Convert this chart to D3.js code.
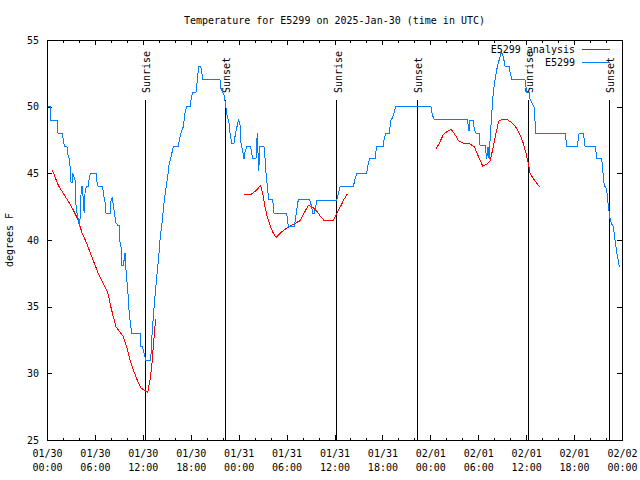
<!DOCTYPE html>
<html>
<head>
<meta charset="utf-8">
<script src="https://cdn.jsdelivr.net/npm/d3@7"></script>
<style>
html,body{margin:0;padding:0;background:#fff;}
svg text{font-family:"DejaVu Sans Mono","Liberation Mono",monospace;font-size:10px;fill:#000;}
</style>
</head>
<body>
<svg id="chart" width="640" height="480"></svg>
<script>
// ---- data (hours since 2025-01-30 00:00 UTC, degrees F) ----
const titleText = "Temperature for E5299 on 2025-Jan-30 (time in UTC)";
const yLabel = "degrees F";
const seriesNames = ["E5299 analysis", "E5299"];
const yTicks = [25, 30, 35, 40, 45, 50, 55];
const sunHours = [12.31, 22.33, 36.31, 46.37, 60.27, 70.41];
const sunLabels = ["Sunrise", "Sunset", "Sunrise", "Sunset", "Sunrise", "Sunset"];

const observed = [
[0.00,50],[0.44,50],[0.50,49],[1.25,49],[1.38,48],[1.94,48],[2.07,47.3],[2.25,47],[2.50,47],[2.63,46.4],
[2.82,46],[2.92,45.3],[3.01,44.3],[3.13,44.3],[3.23,45],[3.38,44.75],[3.51,44.5],[3.63,42.6],[3.76,42],[3.92,41.5],
[4.07,41],[4.13,41.5],[4.30,44],[4.45,44],[4.57,42.6],[4.67,42],[4.76,43.5],[4.92,44],[5.20,44],[5.26,44.5],
[5.42,45],[6.14,45],[6.20,44.5],[6.42,44],[6.97,44],[7.05,43.5],[7.26,42.9],[7.39,42],[7.98,42],[8.01,42.9],
[8.18,43.2],[8.30,42.6],[8.51,41.75],[8.64,41.3],[8.85,41.1],[9.02,41.1],[9.08,40],[9.27,39.5],[9.35,38.1],[9.60,38.1],
[9.68,38.75],[9.77,39],[9.93,37.4],[10.11,36.25],[10.27,34.75],[10.43,33.8],[10.61,33],[11.65,33],[11.71,32],[11.90,32],
[12.06,31.75],[12.36,31],[12.99,31],[13.11,32.5],[13.31,34.25],[13.52,35.75],[13.74,37.25],[13.99,38.75],[14.15,40],[14.44,41.5],
[14.65,42.75],[14.86,43.75],[15.11,44.75],[15.31,45.75],[15.49,46.1],[15.81,47],[16.44,47],[16.57,47.5],[16.78,48],[17.07,48.5],
[17.28,49.5],[17.49,50],[17.91,50],[18.03,50.5],[18.25,51.1],[18.66,51.1],[18.82,52],[19.00,53],[19.25,53],[19.37,52.6],
[19.50,52.05],[21.66,52.05],[21.75,51.4],[22.00,51.1],[22.16,50.9],[22.33,50.25],[22.58,49.25],[22.79,48.75],[22.92,48],[23.13,47.25],
[23.42,47.25],[23.54,47.75],[23.75,48.4],[24.00,49.05],[24.17,48.6],[24.26,47.4],[24.46,46.75],[24.67,46.1],[24.79,46.6],[25.01,47],
[25.51,47],[25.63,46.5],[25.76,46.1],[26.17,46.1],[26.33,48],[26.51,45.2],[26.67,47],[27.17,47],[27.26,46.5],[27.39,45.25],
[27.51,44.5],[27.64,43.75],[27.76,43.05],[28.26,43.05],[28.43,42],[30.02,42],[30.22,41],[30.97,41],[31.09,41.5],[31.34,42.5],
[31.47,43.05],[32.84,43.05],[32.93,42.9],[33.15,42.5],[33.27,42],[33.47,42],[33.65,42.5],[33.77,43],[36.28,43],[36.69,44],
[38.35,44],[38.57,44.55],[38.78,45],[40.03,45],[40.23,45.75],[40.44,46.1],[41.07,46.1],[41.28,47],[42.11,47],[42.24,47.7],
[42.45,48],[42.86,48],[42.95,48.5],[43.08,49],[43.29,49.2],[43.49,49.6],[43.67,50],[48.08,50],[48.25,49.4],[48.46,49.05],
[52.68,49.05],[52.76,48.25],[52.88,48.25],[52.97,49],[53.38,49],[53.51,48.25],[53.72,48],[54.13,48],[54.22,47.1],[54.85,47.1],
[55.06,46.1],[55.22,47],[55.35,46.1],[55.47,47.4],[55.69,49.5],[55.89,51.1],[56.10,52],[56.39,53],[56.73,53.75],[56.89,54.1],
[57.14,53.75],[57.35,53.05],[57.89,53.05],[57.98,52.6],[58.19,52.05],[59.85,52.05],[59.98,51.5],[60.07,51.1],[60.36,51.1],[60.48,50.6],
[60.69,50.3],[60.98,50],[61.11,48.9],[61.20,48],[64.90,48],[65.08,47.05],[66.40,47.05],[66.62,48],[67.16,48],[67.37,47.05],
[68.66,47.05],[68.83,46.1],[69.46,46.1],[69.58,45.25],[69.78,44.1],[70.08,43.8],[70.29,42.5],[70.50,41.6],[70.71,41.2],[70.91,41],
[71.13,40],[71.34,39.1],[71.66,38]
];

// analysis series: null marks a gap
const analysis = [
[0.66,45.25],[1.42,44.1],[2.04,43.5],[2.67,42.9],[3.29,42.25],[3.92,41.5],[4.35,40.6],[4.97,39.75],[5.60,38.75],[6.42,37.5],
[7.05,36.75],[7.60,36.1],[7.89,35.25],[8.30,34.25],[8.64,33.5],[9.14,33.1],[9.55,32.75],[9.98,32],[10.39,31],[10.81,30.25],
[11.36,29.4],[11.77,28.9],[12.27,28.7],[12.61,28.55],[12.90,29.5],[13.11,30.5],[13.31,32],[13.52,33.5],[13.65,34.1],
null,
[24.71,43.4],[25.63,43.45],[26.26,43.75],[26.76,44.1],[27.09,43.25],[27.30,42.5],[27.51,41.9],[27.84,41.25],[28.26,40.6],[28.68,40.2],
[29.18,40.5],[29.80,40.8],[30.64,41.1],[31.68,41.45],[32.18,42],[32.72,42.6],[33.27,42.45],[33.85,42.1],[34.27,41.75],[34.72,41.45],
[35.85,41.45],[36.28,42],[36.78,42.55],[37.19,43.05],[37.60,43.45],
null,
[48.67,46.8],[49.12,47.25],[49.62,47.9],[50.13,48.15],[50.59,48.3],[51.09,47.9],[51.59,47.4],[52.22,47.25],[52.97,47.2],[53.51,47],
[53.93,46.4],[54.22,46],[54.56,45.55],[55.06,45.7],[55.47,45.9],[55.89,47],[56.22,48],[56.56,48.9],[57.06,49.05],[57.56,49.05],
[58.19,48.8],[58.73,48.45],[59.23,47.9],[59.64,47.25],[59.98,46.5],[60.27,45.75],[60.48,45],[60.98,44.55],[61.65,44]
];

// ---- layout ----
const colors = {analysis: "#ff0000", observed: "#0080ff"};
const L = 47, R = 622, T = 40, B = 440;
const t0 = Date.UTC(2025, 0, 30);
const toDate = h => new Date(t0 + h * 3600e3);

const svg = d3.select("#chart");
const x = d3.scaleUtc().domain([toDate(0), toDate(72)]).range([L, R]);
const y = d3.scaleLinear().domain([25, 55]).range([B, T]);

const majorX = d3.range(0, 73, 6).map(toDate);
const minorX = d3.range(0, 73, 2).filter(h => h % 6 !== 0).map(toDate);

// title
svg.append("text").attr("x", (L + R) / 2).attr("y", 23.5)
  .attr("text-anchor", "middle").text(titleText);

// y label
svg.append("text").attr("transform", "translate(13,240) rotate(-90)")
  .attr("text-anchor", "middle").text(yLabel);

function cleanAxis(g) { g.select(".domain").remove(); g.selectAll("line").attr("shape-rendering", "crispEdges").attr("stroke", "#000"); }

// bottom axis (major)
const gxb = svg.append("g").attr("transform", `translate(0,${B})`)
  .call(d3.axisBottom(x).tickValues(majorX).tickSize(-5).tickSizeOuter(0).tickFormat(d3.utcFormat("%m/%d")))
  .call(cleanAxis);
gxb.selectAll(".tick text").each(function(d) {
  const t = d3.select(this);
  t.attr("y", 16.5).attr("dy", null).attr("font-size", null).attr("font-family", null).text(null);
  t.append("tspan").attr("x", 0).text(d3.utcFormat("%m/%d")(d));
  t.append("tspan").attr("x", 0).attr("dy", 14).text(d3.utcFormat("%H:%M")(d));
});
gxb.attr("font-size", null).attr("font-family", null);
// bottom minor
svg.append("g").attr("transform", `translate(0,${B})`)
  .call(d3.axisBottom(x).tickValues(minorX).tickSize(-2.5).tickSizeOuter(0).tickFormat(""))
  .call(cleanAxis);
// top
svg.append("g").attr("transform", `translate(0,${T})`)
  .call(d3.axisTop(x).tickValues(majorX).tickSize(-5).tickSizeOuter(0).tickFormat(""))
  .call(cleanAxis);
svg.append("g").attr("transform", `translate(0,${T})`)
  .call(d3.axisTop(x).tickValues(minorX).tickSize(-2.5).tickSizeOuter(0).tickFormat(""))
  .call(cleanAxis);
// left
const gyl = svg.append("g").attr("transform", `translate(${L},0)`)
  .call(d3.axisLeft(y).tickValues(yTicks).tickSize(-5).tickSizeOuter(0).tickPadding(8))
  .call(cleanAxis);
gyl.attr("font-size", null).attr("font-family", null);
// right
svg.append("g").attr("transform", `translate(${R},0)`)
  .call(d3.axisRight(y).tickValues(yTicks).tickSize(-5).tickSizeOuter(0).tickFormat(""))
  .call(cleanAxis);

// sun lines
const sun = svg.append("g");
sunHours.forEach((h, i) => {
  const xp = x(toDate(h));
  sun.append("line").attr("x1", xp).attr("x2", xp).attr("y1", y(50.5)).attr("y2", B)
    .attr("stroke", "#000").attr("shape-rendering", "crispEdges");
  sun.append("text").attr("transform", `translate(${xp + 5},${y(50.5) - 7}) rotate(-90)`)
    .attr("text-anchor", "start").text(sunLabels[i]);
});

// series
const line = d3.line().defined(d => d !== null)
  .x(d => x(toDate(d[0]))).y(d => y(d[1]));
svg.append("path").datum(analysis).attr("d", line).attr("fill", "none")
  .attr("stroke", colors.analysis).attr("stroke-width", 1).attr("shape-rendering", "crispEdges");
svg.append("path").datum(observed).attr("d", line).attr("fill", "none")
  .attr("stroke", colors.observed).attr("stroke-width", 1).attr("shape-rendering", "crispEdges");

// legend
const leg = svg.append("g");
[[seriesNames[0], colors.analysis], [seriesNames[1], colors.observed]].forEach((s, i) => {
  const yy = 49 + i * 13;
  leg.append("text").attr("x", 575).attr("y", yy + 3.5).attr("text-anchor", "end").text(s[0]);
  leg.append("line").attr("x1", 582).attr("x2", 610).attr("y1", yy).attr("y2", yy)
    .attr("stroke", s[1]).attr("shape-rendering", "crispEdges");
});

// border
svg.append("rect").attr("x", L).attr("y", T).attr("width", R - L).attr("height", B - T)
  .attr("fill", "none").attr("stroke", "#000").attr("shape-rendering", "crispEdges");
</script>
</body>
</html>
